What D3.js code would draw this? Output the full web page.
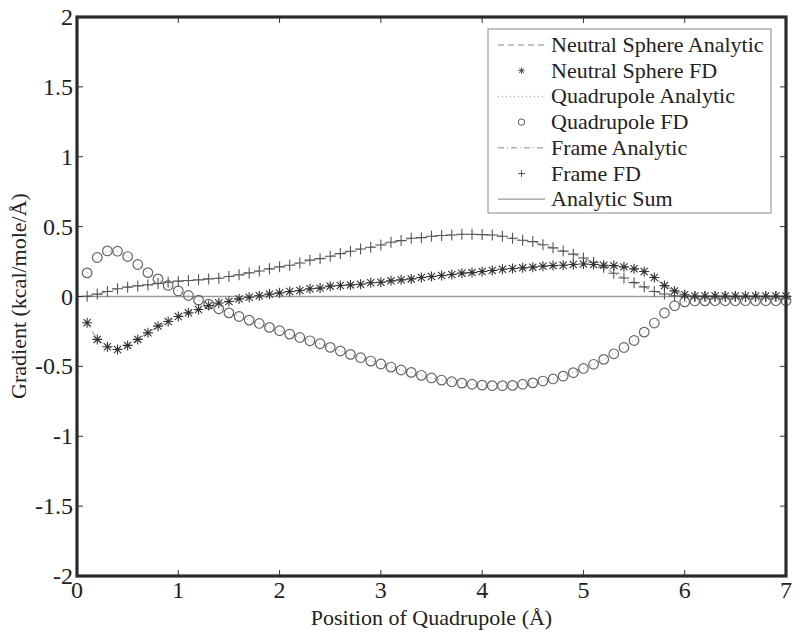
<!DOCTYPE html>
<html>
<head>
<meta charset="utf-8">
<script src="https://cdn.jsdelivr.net/npm/d3@7"></script>
<style>
  html, body { margin: 0; padding: 0; background: #fff; }
  svg { display: block; }
  text { font-family: "Liberation Serif", "Times New Roman", serif; fill: #222; }
</style>
</head>
<body>
<svg id="chart" width="800" height="637"></svg>
<script>
// ---------------- data ----------------
const positions = [0.1,0.2,0.3,0.4,0.5,0.6,0.7,0.8,0.9,1.0,
  1.1,1.2,1.3,1.4,1.5,1.6,1.7,1.8,1.9,2.0,
  2.1,2.2,2.3,2.4,2.5,2.6,2.7,2.8,2.9,3.0,
  3.1,3.2,3.3,3.4,3.5,3.6,3.7,3.8,3.9,4.0,
  4.1,4.2,4.3,4.4,4.5,4.6,4.7,4.8,4.9,5.0,
  5.1,5.2,5.3,5.4,5.5,5.6,5.7,5.8,5.9,6.0,
  6.1,6.2,6.3,6.4,6.5,6.6,6.7,6.8,6.9,7.0];

const neutralSphereFD = [-0.188,-0.307,-0.360,-0.379,-0.350,-0.307,-0.260,-0.212,-0.179,-0.143,
  -0.117,-0.093,-0.064,-0.047,-0.036,-0.017,-0.005,0.005,0.017,0.026,
  0.036,0.043,0.055,0.060,0.074,0.079,0.083,0.088,0.098,0.102,
  0.112,0.119,0.126,0.136,0.143,0.150,0.157,0.167,0.171,0.179,
  0.186,0.195,0.200,0.205,0.210,0.217,0.221,0.224,0.229,0.233,
  0.229,0.224,0.221,0.212,0.198,0.179,0.136,0.078,0.040,0.012,
  0.004,0.003,0.003,0.003,0.003,0.003,0.003,0.003,0.003,0.003];

const quadrupoleFD = [0.169,0.279,0.326,0.324,0.286,0.229,0.171,0.126,0.079,0.040,
  0.007,-0.026,-0.055,-0.088,-0.117,-0.143,-0.169,-0.193,-0.221,-0.245,
  -0.269,-0.293,-0.317,-0.338,-0.364,-0.390,-0.414,-0.438,-0.462,-0.483,
  -0.505,-0.526,-0.543,-0.564,-0.583,-0.598,-0.610,-0.620,-0.628,-0.634,
  -0.638,-0.638,-0.636,-0.628,-0.618,-0.605,-0.590,-0.570,-0.545,-0.515,
  -0.485,-0.450,-0.410,-0.365,-0.315,-0.255,-0.190,-0.118,-0.066,-0.038,
  -0.032,-0.031,-0.030,-0.030,-0.030,-0.030,-0.030,-0.030,-0.030,-0.030];

const frameFD = [0.002,0.017,0.036,0.055,0.067,0.076,0.083,0.093,0.102,0.110,
  0.114,0.119,0.126,0.131,0.143,0.155,0.169,0.183,0.198,0.212,
  0.224,0.240,0.260,0.271,0.288,0.307,0.324,0.340,0.352,0.369,
  0.388,0.400,0.417,0.421,0.431,0.436,0.440,0.445,0.445,0.443,
  0.440,0.431,0.417,0.402,0.393,0.370,0.348,0.325,0.303,0.275,
  0.245,0.210,0.166,0.132,0.099,0.069,0.036,0.018,0.004,0.001,
  0.000,0.000,0.000,0.000,0.000,0.000,0.000,0.000,0.000,0.000];

// analytic curves coincide with the finite-difference points
const neutralSphereAnalytic = neutralSphereFD;
const quadrupoleAnalytic = quadrupoleFD;
const frameAnalytic = frameFD;
const analyticSum = [0.000,0.000,0.000,0.000,0.000,0.000,0.000,0.000,0.000,0.000,
  0.000,0.000,0.000,0.000,0.000,0.000,0.000,0.000,0.000,0.000,
  0.000,0.000,0.000,0.000,0.000,0.000,0.000,0.000,0.000,0.000,
  0.000,0.000,0.000,0.000,0.000,0.000,0.000,0.000,0.000,0.000,
  0.000,0.000,0.000,0.000,0.000,0.000,0.000,0.000,0.000,0.000,
  0.000,0.000,0.000,0.000,0.000,0.000,0.000,0.000,0.000,0.000,
  0.000,0.000,0.000,0.000,0.000,0.000,0.000,0.000,0.000,0.000];

const xTicks = [0,1,2,3,4,5,6,7];
const yTicks = [-2,-1.5,-1,-0.5,0,0.5,1,1.5,2];
const legendLabels = ["Neutral Sphere Analytic","Neutral Sphere FD","Quadrupole Analytic",
  "Quadrupole FD","Frame Analytic","Frame FD","Analytic Sum"];
const xTitle = "Position of Quadrupole (Å)";
const yTitle = "Gradient (kcal/mole/Å)";

// ---------------- layout ----------------
const L = 77, R = 786, T = 17, B = 576;
const svg = d3.select("#chart");
const x = d3.scaleLinear().domain([0,7]).range([L,R]);
const y = d3.scaleLinear().domain([-2,2]).range([B,T]);

const line = arr => d3.line().x((d,i)=>x(positions[i])).y(d=>y(d))(arr);

// analytic lines
svg.append("path").attr("d", line(neutralSphereAnalytic)).attr("fill","none")
  .attr("stroke","#8a8a8a").attr("stroke-width",1).attr("stroke-dasharray","6,4");
svg.append("path").attr("d", line(quadrupoleAnalytic)).attr("fill","none")
  .attr("stroke","#999").attr("stroke-width",1).attr("stroke-dasharray","1,3");
svg.append("path").attr("d", line(frameAnalytic)).attr("fill","none")
  .attr("stroke","#8a8a8a").attr("stroke-width",1).attr("stroke-dasharray","6,3,1,3");
svg.append("path").attr("d", d3.line().x((d,i)=>x([0].concat(positions)[i])).y(d=>y(d))([0].concat(analyticSum)))
  .attr("fill","none").attr("stroke","#9a9a9a").attr("stroke-width",1.5);

// marker shapes
function asterisk(g, cx, cy, s, col, w) {
  const p = d3.path();
  p.moveTo(cx - s, cy); p.lineTo(cx + s, cy);
  p.moveTo(cx, cy - s); p.lineTo(cx, cy + s);
  const d = s * 0.72;
  p.moveTo(cx - d, cy - d); p.lineTo(cx + d, cy + d);
  p.moveTo(cx - d, cy + d); p.lineTo(cx + d, cy - d);
  g.append("path").attr("d", p.toString()).attr("stroke", col).attr("stroke-width", w).attr("fill","none");
}
function plus(g, cx, cy, s, col, w) {
  const p = d3.path();
  p.moveTo(cx - s, cy); p.lineTo(cx + s, cy);
  p.moveTo(cx, cy - s); p.lineTo(cx, cy + s);
  g.append("path").attr("d", p.toString()).attr("stroke", col).attr("stroke-width", w).attr("fill","none");
}

const gQ = svg.append("g");
quadrupoleFD.forEach((v,i)=>{
  gQ.append("circle").attr("cx", x(positions[i])).attr("cy", y(v)).attr("r", 4.8)
    .attr("fill","none").attr("stroke","#666").attr("stroke-width",1.2);
});
const gF = svg.append("g");
frameFD.forEach((v,i)=> plus(gF, x(positions[i]), y(v), 5.5, "#555", 1.1));
const gN = svg.append("g");
neutralSphereFD.forEach((v,i)=> asterisk(gN, x(positions[i]), y(v), 5, "#333", 1.1));

// frame + ticks
const tickLen = 6;
const gt = svg.append("g").attr("stroke","#333").attr("stroke-width",1);
xTicks.forEach(t=>{
  gt.append("line").attr("x1",x(t)).attr("x2",x(t)).attr("y1",B).attr("y2",B-tickLen);
  gt.append("line").attr("x1",x(t)).attr("x2",x(t)).attr("y1",T).attr("y2",T+tickLen);
});
yTicks.forEach(t=>{
  gt.append("line").attr("x1",L).attr("x2",L+tickLen).attr("y1",y(t)).attr("y2",y(t));
  gt.append("line").attr("x1",R).attr("x2",R-tickLen).attr("y1",y(t)).attr("y2",y(t));
});
svg.append("rect").attr("x",L).attr("y",T).attr("width",R-L).attr("height",B-T)
  .attr("fill","none").attr("stroke","#2a2a2a").attr("stroke-width",3.2);

// tick labels
xTicks.forEach(t=>{
  svg.append("text").attr("x",x(t)).attr("y",598).attr("text-anchor","middle")
    .attr("font-size",24).text(d3.format("")(t));
});
yTicks.forEach(t=>{
  svg.append("text").attr("x",L-4).attr("y",y(t)+8).attr("text-anchor","end")
    .attr("font-size",24).text(String(t));
});

// axis titles
svg.append("text").attr("x",(L+R)/2).attr("y",625).attr("text-anchor","middle")
  .attr("font-size",22).text(xTitle);
svg.append("text").attr("transform","translate(26,296) rotate(-90)").attr("text-anchor","middle")
  .attr("font-size",22).text(yTitle);

// legend
const lg = svg.append("g");
lg.append("rect").attr("x",488).attr("y",29).attr("width",283).attr("height",184)
  .attr("fill","#fff").attr("stroke","#888").attr("stroke-width",1);
const rowY = i => 45 + i * 25.7;
const sx1 = 498, sx2 = 545, mx = 521.5;
const styles = [
  {type:"line", dash:"6,4", col:"#8a8a8a"},
  {type:"ast"},
  {type:"line", dash:"1,3", col:"#999"},
  {type:"circ"},
  {type:"line", dash:"6,3,1,3", col:"#8a8a8a"},
  {type:"plus"},
  {type:"line", dash:null, col:"#9a9a9a"}
];
legendLabels.forEach((lab,i)=>{
  const cy = rowY(i);
  const s = styles[i];
  if (s.type === "line") {
    const ln = lg.append("line").attr("x1",sx1).attr("x2",sx2).attr("y1",cy).attr("y2",cy)
      .attr("stroke",s.col).attr("stroke-width", s.dash ? 1 : 1.3);
    if (s.dash) ln.attr("stroke-dasharray", s.dash);
  } else if (s.type === "ast") {
    asterisk(lg, mx, cy, 3.2, "#555", 1);
  } else if (s.type === "circ") {
    lg.append("circle").attr("cx",mx).attr("cy",cy).attr("r",3.2).attr("fill","none")
      .attr("stroke","#555").attr("stroke-width",1);
  } else {
    plus(lg, mx, cy, 3.5, "#555", 1);
  }
  lg.append("text").attr("x",551).attr("y",cy+7).attr("font-size",22).text(lab);
});
</script>
</body>
</html>
